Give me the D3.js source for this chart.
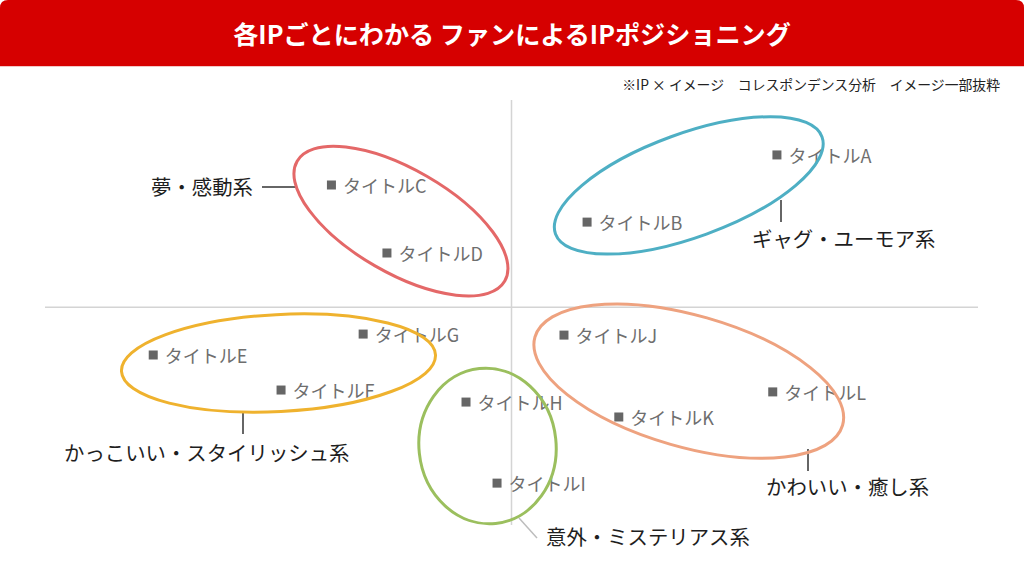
<!DOCTYPE html>
<html><head><meta charset="utf-8">
<script src="https://cdn.jsdelivr.net/npm/d3@7"></script>
<style>
html,body{margin:0;padding:0;background:#fff;}
svg{display:block;font-family:"Noto Sans CJK JP","Noto Sans",sans-serif;}
</style>
</head><body>
<svg id="chart" width="1024" height="562"></svg>
<script>
// ---------- data ----------
const titleText = "各IPごとにわかる ファンによるIPポジショニング";
const noteText = "※IP × イメージ　コレスポンデンス分析　イメージ一部抜粋";

const titles  = ["タイトルA","タイトルB","タイトルC","タイトルD","タイトルE","タイトルF",
                 "タイトルG","タイトルH","タイトルI","タイトルJ","タイトルK","タイトルL"];
const xValues = [0.569, 0.162, -0.386, -0.267, -0.768, -0.494, -0.318, -0.0975, -0.031, 0.1125, 0.230, 0.560];
const yValues = [0.735, 0.411,  0.590,  0.262, -0.230, -0.399, -0.129, -0.457, -0.848, -0.134, -0.529, -0.408];

const groupNames   = ["夢・感動系","ギャグ・ユーモア系","かっこいい・スタイリッシュ系","意外・ミステリアス系","かわいい・癒し系"];
const groupMembers = [["タイトルC","タイトルD"],["タイトルA","タイトルB"],["タイトルE","タイトルF","タイトルG"],
                      ["タイトルH","タイトルI"],["タイトルJ","タイトルK","タイトルL"]];
// ellipse around each group (centre in data units, radii in x-axis units, tilt in degrees)
const groupCx    = [-0.237, 0.380, -0.4995, -0.0514, 0.380];
const groupCy    = [ 0.416, 0.588, -0.269, -0.669, -0.356];
const groupRx    = [ 0.257, 0.304,  0.337,  0.147,  0.343];
const groupRy    = [ 0.111, 0.111,  0.104,  0.167,  0.141];
const groupTilt  = [ 30, -20, -3, -6, 16];

// ---------- styles / layout ----------
const groupColors = ["#e46868","#4eafc4","#efb22e","#9bbf5e","#eea27f"];
// label layout: [textX, textY, anchor, line x1,y1,x2,y2, lineColor]
const groupLabelLayout = [
  [253, 186, "end",   262, 187, 297, 187, "#333"],
  [752, 238, "start", 781, 200, 781, 222, "#333"],
  [64,  452, "start", 243, 413, 243, 434, "#333"],
  [546, 536, "start", 519, 518, 537, 538, "#bdbdbd"],
  [766, 486, "start", 808, 449, 808, 471, "#333"]
];

const W = 1024, H = 562;
const svg = d3.select("#chart");

// title bar with rounded top corners
const r = 8, barH = 66;
svg.append("path")
  .attr("d", `M0,${barH} L0,${r} Q0,0 ${r},0 L${W-r},0 Q${W},0 ${W},${r} L${W},${barH} Z`)
  .attr("fill", "#d60000");
svg.append("line").attr("x1",0).attr("x2",W).attr("y1",barH+0.5).attr("y2",barH+0.5)
  .attr("stroke","#f3c6c6").attr("stroke-width",1);

const tt = svg.append("text")
  .attr("x", W/2).attr("y", 33)
  .attr("text-anchor","middle").attr("dominant-baseline","central")
  .attr("fill","#fff").attr("font-weight","bold").attr("font-size",24)
  .text(titleText);
// fit title width to reference
{
  const target = 558, w = tt.node().getComputedTextLength();
  tt.attr("font-size", 24 * target / w);
}

const nt = svg.append("text")
  .attr("x", 1000).attr("y", 84)
  .attr("text-anchor","end").attr("dominant-baseline","central")
  .attr("fill","#222").attr("font-size",13)
  .text(noteText);
{
  const target = 378, w = nt.node().getComputedTextLength();
  nt.attr("font-size", 13 * target / w);
}

// scales
const x = d3.scaleLinear().domain([-1, 1]).range([45, 978]);
const y = d3.scaleLinear().domain([-1.05, 1]).range([525, 100]);

// axes (quadrant lines through origin)
svg.append("line")
  .attr("x1", x(0)).attr("x2", x(0)).attr("y1", y.range()[0]).attr("y2", y.range()[1])
  .attr("stroke","#d4d4d4").attr("stroke-width",1.5);
svg.append("line")
  .attr("x1", x.range()[0]).attr("x2", x.range()[1]).attr("y1", y(0)).attr("y2", y(0))
  .attr("stroke","#d4d4d4").attr("stroke-width",1.5);

const points = titles.map((t,i)=>({name:t, x:xValues[i], y:yValues[i]}));
const groups = groupNames.map((g,i)=>({name:g, members:groupMembers[i], cx:groupCx[i], cy:groupCy[i],
  rx:groupRx[i], ry:groupRy[i], tilt:groupTilt[i], color:groupColors[i], layout:groupLabelLayout[i]}));

// leader lines
svg.append("g").selectAll("line").data(groups).join("line")
  .attr("x1", d=>d.layout[3]).attr("y1", d=>d.layout[4])
  .attr("x2", d=>d.layout[5]).attr("y2", d=>d.layout[6])
  .attr("stroke", d=>d.layout[7]).attr("stroke-width",1.5);

// point markers and labels
const pg = svg.append("g").selectAll("g").data(points).join("g")
  .attr("transform", d=>`translate(${x(d.x)},${y(d.y)})`);
pg.append("rect").attr("x",-4.5).attr("y",-4.5).attr("width",9).attr("height",9).attr("fill","#666");
pg.append("text").attr("x",11.5).attr("y",0).attr("dominant-baseline","central")
  .attr("font-size",18).attr("fill","#6e6e6e").text(d=>d.name);

// group ellipses
svg.append("g").selectAll("ellipse").data(groups).join("ellipse")
  .attr("transform", d=>`translate(${x(d.cx)},${y(d.cy)}) rotate(${d.tilt})`)
  .attr("rx", d=>(x(d.rx)-x(0))).attr("ry", d=>(x(d.ry)-x(0)))
  .attr("fill","none").attr("stroke", d=>d.color).attr("stroke-width",3);

// group labels
svg.append("g").selectAll("text").data(groups).join("text")
  .attr("x", d=>d.layout[0]).attr("y", d=>d.layout[1])
  .attr("text-anchor", d=>d.layout[2]).attr("dominant-baseline","central")
  .attr("font-size",20.4).attr("fill","#1e1e1e").text(d=>d.name);
</script>
</body></html>
